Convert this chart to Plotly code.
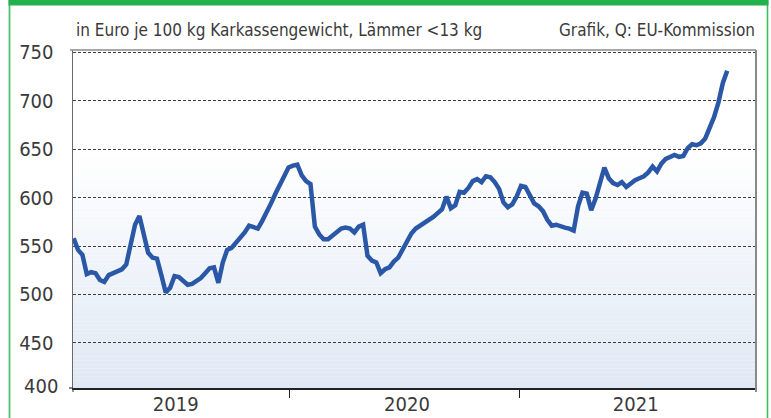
import plotly.graph_objects as go
import pandas as pd

# ---- data ----
weeks = pd.date_range("2019-01-21", periods=150, freq="7D")
prices = [
    558, 546, 541, 521, 523, 522, 515, 513, 520, 522,
    524, 526, 531, 552, 572, 581, 560, 543, 538, 537,
    520, 502, 507, 519, 518, 514, 510, 511, 514, 517,
    522, 527, 528, 512, 533, 546, 548, 553, 559, 564,
    571, 569, 568, 576, 584, 594, 604, 613, 623, 631,
    633, 634, 623, 617, 614, 570, 562, 557, 557, 561,
    565, 568, 569, 568, 564, 570, 572, 540, 535, 533,
    522, 526, 528, 534, 538, 547, 556, 563, 568, 571,
    574, 576, 580, 584, 588, 601, 589, 592, 606, 605,
    610, 617, 619, 616, 622, 621, 616, 609, 595, 590,
    593, 601, 612, 611, 602, 594, 591, 586, 577, 571,
    572, 570, 569, 568, 566, 591, 605, 604, 587, 599,
    614, 631, 620, 615, 613, 616, 611, 615, 618, 620,
    622, 626, 632, 627, 635, 640, 642, 644, 642, 643,
    651, 655, 654, 656, 661, 671, 683, 698, 718, 731,
]
year_labels = ["2019", "2020", "2021"]
year_centers = ["2019-07-03", "2020-07-06", "2021-07-06"]
year_bounds = ["2020-01-01", "2021-01-01"]
y_ticks = [450, 500, 550, 600, 650, 700, 750]
subtitle = "in Euro je 100 kg Karkassengewicht, Lämmer &lt;13 kg"
source = "Grafik, Q: EU-Kommission"

X_RANGE = ["2019-01-20", "2022-01-14"]
Y_RANGE = [403.5, 752.3]
FONT = "Liberation Sans Narrow, DejaVu Sans Condensed, Arial Narrow, sans-serif"
TXT = "#3a3a3a"
GREEN = "#22b14c"

fig = go.Figure()
fig.add_trace(go.Scatter(
    x=weeks, y=prices, mode="lines",
    line=dict(color="#2a57a6", width=4.5, shape="linear"),
    hoverinfo="skip", showlegend=False,
))

W, H = 771, 418
L, R, T, B = 73, 15, 50, 30
pw, ph = W - L - R, H - T - B
def px(x):
    return (x - L) / pw
def py(y):
    return (H - B - y) / ph

shapes = []
# vertical gradient background (white -> light blue)
n = 60
top_v, bot_v = 645.0, Y_RANGE[0]
c_top = (255, 255, 255)
c_bot = (223, 232, 244)
for i in range(n):
    y0 = top_v - (top_v - bot_v) * i / n
    y1 = top_v - (top_v - bot_v) * (i + 1) / n
    t = (i + 0.5) / n
    c = tuple(round(c_top[j] + (c_bot[j] - c_top[j]) * t) for j in range(3))
    shapes.append(dict(type="rect", xref="paper", yref="y", x0=0, x1=1, y0=y1, y1=y0,
                       fillcolor="rgb(%d,%d,%d)" % c, line=dict(width=0), layer="below"))

# plot frame (top/right)
shapes.append(dict(type="line", xref="paper", yref="paper", x0=px(70), x1=1, y0=1, y1=1,
                   line=dict(color="#8a8a8a", width=1.5)))
shapes.append(dict(type="line", xref="paper", yref="paper", x0=1, x1=1, y0=py(392), y1=1,
                   line=dict(color="#8a8a8a", width=2)))
# small ticks at left bottom corner
shapes.append(dict(type="line", xref="paper", yref="paper", x0=0, x1=0, y0=0, y1=py(392),
                   line=dict(color="#333", width=1)))
shapes.append(dict(type="line", xref="paper", yref="paper", x0=px(69), x1=0, y0=0, y1=0,
                   line=dict(color="#333", width=1.2)))
# green outer frame and top band
shapes.append(dict(type="line", xref="paper", yref="paper", x0=px(9.5), x1=px(9.5),
                   y0=py(420), y1=py(0), line=dict(color="#4cc46a", width=1.8)))
shapes.append(dict(type="line", xref="paper", yref="paper", x0=px(767.5), x1=px(767.5),
                   y0=py(420), y1=py(0), line=dict(color="#3cbf5c", width=1.6)))
shapes.append(dict(type="rect", xref="paper", yref="paper", x0=px(8.5), x1=px(768.5),
                   y0=py(5.5), y1=py(0), line=dict(width=0), fillcolor=GREEN))

annotations = [
    dict(text=subtitle, xref="paper", yref="paper", x=px(74), y=py(30),
         xanchor="left", yanchor="middle", showarrow=False,
         font=dict(family=FONT, size=17, color=TXT)),
    dict(text=source, xref="paper", yref="paper", x=px(757), y=py(30),
         xanchor="right", yanchor="middle", showarrow=False,
         font=dict(family=FONT, size=17, color=TXT)),
    dict(text="400", xref="paper", yref="paper", x=px(60), y=py(386),
         xanchor="right", yanchor="middle", showarrow=False,
         font=dict(family=FONT, size=20, color=TXT)),
]

fig.update_layout(
    width=W, height=H,
    margin=dict(l=L, r=R, t=T, b=B, pad=0),
    paper_bgcolor="white", plot_bgcolor="white",
    shapes=shapes, annotations=annotations,
    font=dict(family=FONT, color=TXT),
    xaxis=dict(
        type="date", range=X_RANGE, automargin=False,
        tickvals=year_centers, ticktext=year_labels,
        ticks="", showgrid=False, zeroline=False,
        showline=True, linecolor="#222", linewidth=1.5,
        tickfont=dict(family=FONT, size=20, color=TXT),
        ticklabelstandoff=-3,
        minor=dict(tickvals=year_bounds, ticks="outside", ticklen=8,
                   tickcolor="#222", tickwidth=1.2, showgrid=False),
    ),
    yaxis=dict(
        range=Y_RANGE, tickvals=y_ticks, automargin=False,
        ticks="", showgrid=True, gridcolor="#3c3c3c", gridwidth=1,
        griddash="3px,2px", zeroline=False,
        showline=True, linecolor="#6a6a6a", linewidth=1.5,
        tickfont=dict(family=FONT, size=20, color=TXT),
        ticklabelstandoff=14,
    ),
)

fig.write_html(
    "out.html",
    config={"displayModeBar": False, "staticPlot": True},
    post_script="document.body.style.margin='0';document.body.style.overflow='hidden';window.scrollTo(0,0);",
)
